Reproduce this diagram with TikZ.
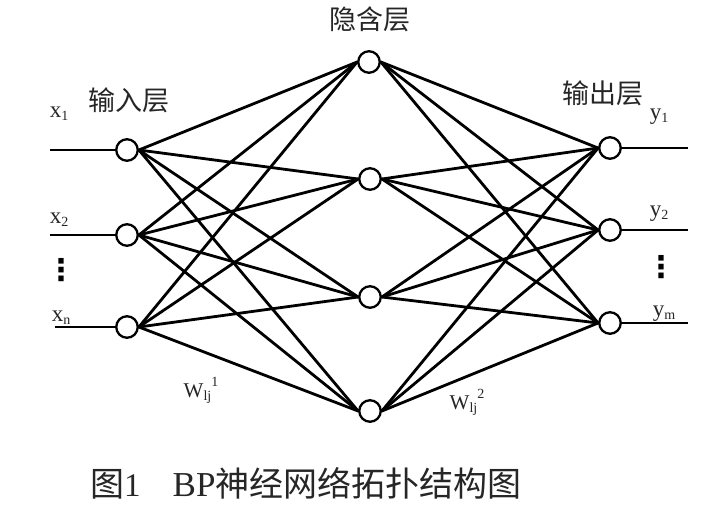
\documentclass[tikz,border=0pt]{standalone}
\usepackage{fontspec}
\setmainfont{Liberation Serif}
\newfontfamily\cjk{Noto Sans CJK SC}
\newfontfamily\dvs{DejaVu Sans}
\newcommand{\lbsub}[1]{\raisebox{-0.25ex}{\fontsize{14}{14}\selectfont #1}}
\begin{document}
\begin{tikzpicture}[x=1pt,y=-1pt,
  neuron/.style={circle,draw,line width=1.8pt,fill=white,minimum size=22pt,inner sep=0pt},
  link/.style={line width=2.8pt,line cap=round},
  iolink/.style={line width=2.8pt},
  layer/.style={font=\cjk\fontsize{27}{27}\selectfont,text=black!85,inner sep=0pt},
  var/.style={font=\fontsize{23}{23}\selectfont,text=black!85,inner sep=0pt},
  wvar/.style={font=\fontsize{21}{21}\selectfont,text=black!85,inner sep=0pt},
  dots/.style={font=\dvs\bfseries\fontsize{30}{30}\selectfont,inner sep=0pt}]
\useasboundingbox (0,0) rectangle (717,525);
\fill[white] (0,0) rectangle (717,525);
% nodes
\node[neuron] (i1) at (127,150) {};
\node[neuron] (i2) at (127,235) {};
\node[neuron] (i3) at (127,327) {};
\node[neuron] (h1) at (369,62) {};
\node[neuron] (h2) at (370,179) {};
\node[neuron] (h3) at (370,297) {};
\node[neuron] (h4) at (370,411) {};
\node[neuron] (o1) at (610,148) {};
\node[neuron] (o2) at (610,230) {};
\node[neuron] (o3) at (610,323) {};
% connections
\foreach \a in {i1,i2,i3}
  \foreach \b in {h1,h2,h3,h4}
    \draw[link] (\a.east) -- (\b.west);
\foreach \a in {h1,h2,h3,h4}
  \foreach \b in {o1,o2,o3}
    \draw[link] (\a.east) -- (\b.west);
% redraw neurons on top
\foreach \n in {i1,i2,i3,h1,h2,h3,h4,o1,o2,o3}
  \draw[line width=1.8pt,fill=white] (\n) circle (10.5pt);
% input / output lines
\coordinate (a1) at (50,150);
\coordinate (a2) at (50,235);
\coordinate (a3) at (55,327);
\coordinate (b1) at (688,148);
\coordinate (b2) at (688,230);
\coordinate (b3) at (688,323);
\draw[iolink] (a1) -- (i1.west);
\draw[iolink] (a2) -- (i2.west);
\draw[iolink] (a3) -- (i3.west);
\draw[iolink] (o1.east) -- (b1);
\draw[iolink] (o2.east) -- (b2);
\draw[iolink] (o3.east) -- (b3);
% labels
\node[layer] (Lin) at (129,100) {输入层};
\node[layer] (Lhid) at (370,19) {隐含层};
\node[layer] (Lout) at (603,93) {输出层};
\node[var] (x1) at (59,114) {x\lbsub{1}};
\node[var] (x2) at (59,220) {x\lbsub{2}};
\node[var] (xn) at (61,318) {x\lbsub{n}};
\node[var] (y1) at (659,117) {y\lbsub{1}};
\node[var] (y2) at (659,214) {y\lbsub{2}};
\node[var] (ym) at (664,314) {y\lbsub{m}};
\node[dots] (d1) at (61,270) {⋮};
\node[dots] (d2) at (661,267) {⋮};
\node[wvar] (w1) at (201,390) {W\lbsub{lj}\raisebox{1.2ex}{\fontsize{14}{14}\selectfont 1}};
\node[wvar] (w2) at (467,402) {W\lbsub{lj}\raisebox{1.2ex}{\fontsize{14}{14}\selectfont 2}};
% caption
\node[inner sep=0pt,anchor=west,text=black!85] (cap) at (90,483)
  {{\cjk\fontsize{34}{34}\selectfont 图}{\fontsize{33}{33}\selectfont 1}\hspace{32pt}{\fontsize{35}{35}\selectfont BP}{\cjk\fontsize{34}{34}\selectfont 神经网络拓扑结构图}};
\end{tikzpicture}
\end{document}
